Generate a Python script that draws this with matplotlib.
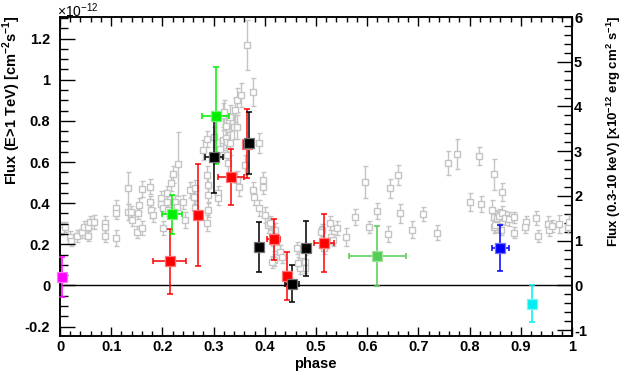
import matplotlib
matplotlib.use("Agg")
import matplotlib.pyplot as plt
from matplotlib.ticker import MultipleLocator, FuncFormatter
import numpy as np

plt.rcParams['font.family'] = ['Liberation Sans', 'DejaVu Sans']
plt.rcParams['mathtext.fontset'] = 'custom'
plt.rcParams['mathtext.rm'] = 'Liberation Sans'
plt.rcParams['mathtext.bf'] = 'Liberation Sans:bold'
plt.rcParams['axes.unicode_minus'] = False

# ---------------- X-ray (gray, right axis, x1e-12 erg cm^-2 s^-1) ----------------
gray_phase = [0.0045, 0.002, 0.010, 0.0195, 0.021, 0.033, 0.042, 0.046, 0.055, 0.055,
              0.059, 0.067, 0.087, 0.087, 0.087, 0.110, 0.110, 0.110, 0.132, 0.132,
              0.138, 0.141, 0.150, 0.154, 0.153, 0.160, 0.161, 0.176, 0.176, 0.177,
              0.182, 0.197, 0.197, 0.202, 0.202, 0.209, 0.209, 0.210, 0.217, 0.220,
              0.225, 0.228, 0.231, 0.241, 0.244, 0.254, 0.261, 0.264, 0.264, 0.280,
              0.287, 0.287, 0.290, 0.290, 0.290, 0.288, 0.300, 0.309, 0.309, 0.313,
              0.319, 0.324, 0.318, 0.321, 0.324, 0.326, 0.327, 0.329, 0.332, 0.332,
              0.339, 0.342, 0.345, 0.345, 0.345, 0.350, 0.353, 0.362, 0.366, 0.376,
              0.376, 0.378, 0.388, 0.388, 0.397, 0.397, 0.400, 0.407, 0.410, 0.420,
              0.417, 0.423, 0.430, 0.433, 0.417, 0.463, 0.472, 0.479, 0.479, 0.511,
              0.528, 0.530, 0.515, 0.541, 0.534, 0.559, 0.577, 0.596, 0.604, 0.620,
              0.641, 0.645, 0.661, 0.664, 0.687, 0.709, 0.736, 0.757, 0.775, 0.800,
              0.819, 0.823, 0.843, 0.847, 0.864, 0.847, 0.853, 0.857, 0.863, 0.870,
              0.876, 0.847, 0.850, 0.861, 0.886, 0.887, 0.911, 0.909, 0.930, 0.933,
              0.953, 0.956, 0.961, 0.974, 0.993, 0.995, 0.469, 0.465, 0.414, 0.509]
gray_flux = [1.31, 1.24, 1.30, 1.09, 1.00, 1.11, 1.19, 1.31, 1.31, 1.11,
             1.42, 1.42, 1.40, 1.31, 1.10, 1.74, 1.61, 1.06, 2.17, 1.65,
             1.65, 1.46, 1.20, 1.80, 1.61, 2.15, 1.28, 2.21, 1.87, 1.68,
             1.57, 1.95, 1.83, 1.72, 1.28, 2.06, 1.87, 1.68, 2.28, 2.48,
             1.87, 1.76, 2.71, 1.87, 1.46, 2.13, 1.98, 2.17, 1.72, 3.03,
             3.27, 2.47, 2.24, 2.02, 1.68, 1.39, 3.32, 2.06, 1.95, 3.06,
             3.25, 3.29, 3.81, 3.88, 3.56, 3.20, 2.91, 2.73, 3.77, 3.18,
             3.55, 3.92, 4.15, 3.55, 2.36, 2.21, 4.26, 2.69, 5.38, 4.32,
             2.13, 1.98, 3.18, 1.74, 2.36, 2.21, 1.57, 1.35, 1.39, 1.24,
             0.94, 0.83, 0.75, 0.64, 0.57, 0.83, 0.68, 0.53, 0.40, 1.24,
             1.39, 1.09, 0.83, 1.28, 1.01, 1.09, 1.52, 2.32, 1.30, 1.66,
             1.15, 2.17, 2.47, 1.61, 1.25, 1.59, 1.18, 2.73, 2.94, 1.87,
             2.90, 1.83, 1.68, 2.48, 2.09, 1.53, 1.50, 1.55, 1.62, 1.50,
             1.48, 1.31, 1.35, 1.25, 1.52, 1.18, 1.42, 1.31, 1.50, 1.10,
             1.37, 1.24, 1.33, 1.37, 1.30, 1.42, 0.38, 0.50, 0.53, 1.20]
gray_err = [0.11, 0.11, 0.11, 0.13, 0.11, 0.13, 0.13, 0.13, 0.13, 0.11,
            0.13, 0.16, 0.16, 0.13, 0.13, 0.18, 0.13, 0.18, 0.36, 0.18,
            0.13, 0.13, 0.13, 0.16, 0.13, 0.18, 0.16, 0.16, 0.13, 0.18,
            0.16, 0.16, 0.13, 0.13, 0.16, 0.16, 0.13, 0.13, 0.16, 0.18,
            0.16, 0.13, 0.72, 0.16, 0.18, 0.18, 0.16, 0.18, 0.16, 0.22,
            0.18, 0.20, 0.18, 0.16, 0.16, 0.18, 0.22, 0.16, 0.16, 0.22,
            0.22, 0.22, 0.27, 0.27, 0.27, 0.22, 0.22, 0.22, 0.27, 0.27,
            0.27, 0.27, 0.27, 0.27, 0.20, 0.20, 0.27, 0.22, 0.56, 0.31,
            0.18, 0.18, 0.22, 0.18, 0.18, 0.16, 0.18, 0.18, 0.16, 0.16,
            0.16, 0.13, 0.16, 0.13, 0.13, 0.13, 0.16, 0.16, 0.13, 0.13,
            0.16, 0.16, 0.13, 0.16, 0.13, 0.20, 0.18, 0.36, 0.13, 0.18,
            0.18, 0.22, 0.22, 0.22, 0.18, 0.16, 0.16, 0.27, 0.34, 0.20,
            0.20, 0.18, 0.22, 0.34, 0.20, 0.16, 0.16, 0.16, 0.16, 0.16,
            0.16, 0.13, 0.16, 0.13, 0.13, 0.13, 0.13, 0.13, 0.16, 0.13,
            0.18, 0.13, 0.13, 0.20, 0.13, 0.16, 0.13, 0.13, 0.13, 0.13]

# ---------------- VHE flux (left axis, x1e-12 cm^-2 s^-1) ----------------
red_phase = [0.214, 0.269, 0.334, 0.365, 0.417, 0.444, 0.516]
red_flux = [0.118, 0.342, 0.528, 0.690, 0.225, 0.044, 0.204]
red_xerr = [0.032, 0.0, 0.025, 0.0, 0.012, 0.0, 0.020]
red_yerr = [0.158, 0.247, 0.136, 0.168, 0.100, 0.117, 0.141]

green_phase = [0.2195, 0.304]
green_flux = [0.345, 0.825]
green_xerr = [0.0195, 0.027]
green_yerr = [0.097, 0.235]

black_phase = [0.301, 0.369, 0.388, 0.453, 0.480]
black_flux = [0.623, 0.694, 0.188, 0.008, 0.180]
black_xerr = [0.017, 0.0, 0.0, 0.014, 0.0]
black_yerr = [0.175, 0.150, 0.122, 0.089, 0.134]

lgreen_phase = [0.620]
lgreen_flux = [0.141]
lgreen_xerr = [0.056]
lgreen_yerr = [0.146]

blue_phase = [0.860]
blue_flux = [0.181]
blue_xerr = [0.017]
blue_yerr = [0.111]

cyan_phase = [0.921]
cyan_flux = [-0.088]
cyan_xerr = [0.0]
cyan_yerr = [0.090]

magenta_phase = [0.004]
magenta_flux = [0.042]
magenta_xerr = [0.0]
magenta_yerr = [0.098]

W, H = 629, 377
fig = plt.figure(figsize=(W / 100, H / 100), dpi=100)
L, R, B, T = 60, 572, 336, 17
ax = fig.add_axes([L / W, 1 - B / H, (R - L) / W, (B - T) / H])
ax2 = ax.twinx()

left_lim = (-0.2458, 1.305)
right_lim = (-1.13, 6.0)
ax.set_xlim(0, 1)
ax.set_ylim(*left_lim)
ax2.set_ylim(*right_lim)

gcol = '#c4c4c4'
ax2.errorbar(gray_phase, gray_flux, yerr=gray_err, fmt='s', ms=4.0, mfc='white',
             mec=gcol, mew=1.0, ecolor=gcol, elinewidth=1.0, capsize=1.8,
             capthick=1.0, zorder=2)

ax.set_zorder(ax2.get_zorder() + 1)
ax.patch.set_visible(False)

ax.axhline(0, color='black', lw=1.0, zorder=3)


def light(c, f=0.45):
    rgb = np.array(matplotlib.colors.to_rgb(c))
    return tuple(rgb + (1 - rgb) * f)


def series(px, fx, xe, ye, c):
    xe_arr = np.array(xe)
    eb = ax.errorbar(px, fx, xerr=np.where(xe_arr > 0, xe_arr, np.nan), yerr=ye,
                     fmt='none', ecolor=c, elinewidth=1.1, capsize=2.4, capthick=1.1,
                     zorder=4)
    for art in eb.get_children():
        art.set_clip_on(False)
    ax.plot(px, fx, 's', ms=7.6, mfc=c, mec=light(c), mew=0.9, ls='none', zorder=5,
            clip_on=False)


series(red_phase, red_flux, red_xerr, red_yerr, '#ff0000')
series(green_phase, green_flux, green_xerr, green_yerr, '#00ee00')
series(black_phase, black_flux, black_xerr, black_yerr, '#000000')
series(lgreen_phase, lgreen_flux, lgreen_xerr, lgreen_yerr, '#55cc55')
series(blue_phase, blue_flux, blue_xerr, blue_yerr, '#0000ff')
series(cyan_phase, cyan_flux, cyan_xerr, cyan_yerr, '#00eeee')
series(magenta_phase, magenta_flux, magenta_xerr, magenta_yerr, '#ff00ff')

fmt = FuncFormatter(lambda v, p: '%g' % round(v, 6))
ax.xaxis.set_major_locator(MultipleLocator(0.1))
ax.xaxis.set_minor_locator(MultipleLocator(0.02))
ax.yaxis.set_major_locator(MultipleLocator(0.2))
ax.yaxis.set_minor_locator(MultipleLocator(0.05))
ax2.yaxis.set_major_locator(MultipleLocator(1))
ax2.yaxis.set_minor_locator(MultipleLocator(0.2))
ax.xaxis.set_major_formatter(fmt)
ax.yaxis.set_major_formatter(fmt)
ax2.yaxis.set_major_formatter(fmt)

fs = 10.5
ax.tick_params(axis='x', which='major', direction='in', top=True, bottom=True,
               length=6.5, width=1.0, labelsize=fs, pad=3)
ax.tick_params(axis='x', which='minor', direction='in', top=True, bottom=True,
               length=3.6, width=1.0)
ax.tick_params(axis='y', which='major', direction='in', left=True, right=False,
               length=10.8, width=1.0, labelsize=fs, pad=7)
ax.tick_params(axis='y', which='minor', direction='in', left=True, right=False,
               length=5.6, width=1.0)
ax2.tick_params(axis='y', which='major', direction='in', right=True, left=False,
                length=10.8, width=1.0, labelsize=fs, pad=1.5)
ax2.tick_params(axis='y', which='minor', direction='in', right=True, left=False,
                length=5.6, width=1.0)
for a in (ax, ax2):
    for lab in a.get_xticklabels() + a.get_yticklabels():
        lab.set_fontweight('bold')
    for s in a.spines.values():
        s.set_linewidth(1.1)

fig.text(315 / W, 1 - 364 / H, 'phase', ha='center', va='center', fontsize=fs,
         fontweight='bold')
fig.text(12 / W, 1 - 15 / H, r'Flux (E>1 TeV) [cm$^{\mathbf{-2}}$s$^{\mathbf{-1}}$]',
         rotation=90, ha='center', va='top', fontsize=fs, fontweight='bold')
fig.text(614 / W, 1 - 15 / H,
         r'Flux (0.3-10 keV) [x10$^{\mathbf{-12}}$ erg cm$^{\mathbf{2}}$ s$^{\mathbf{-1}}$]',
         rotation=90, ha='center', va='top', fontsize=9.5, fontweight='bold')
fig.text(57 / W, 1 - 11 / H, r'$\times$10$^{-12}$', ha='left', va='center', fontsize=10)

fig.savefig('out.png', dpi=100)
